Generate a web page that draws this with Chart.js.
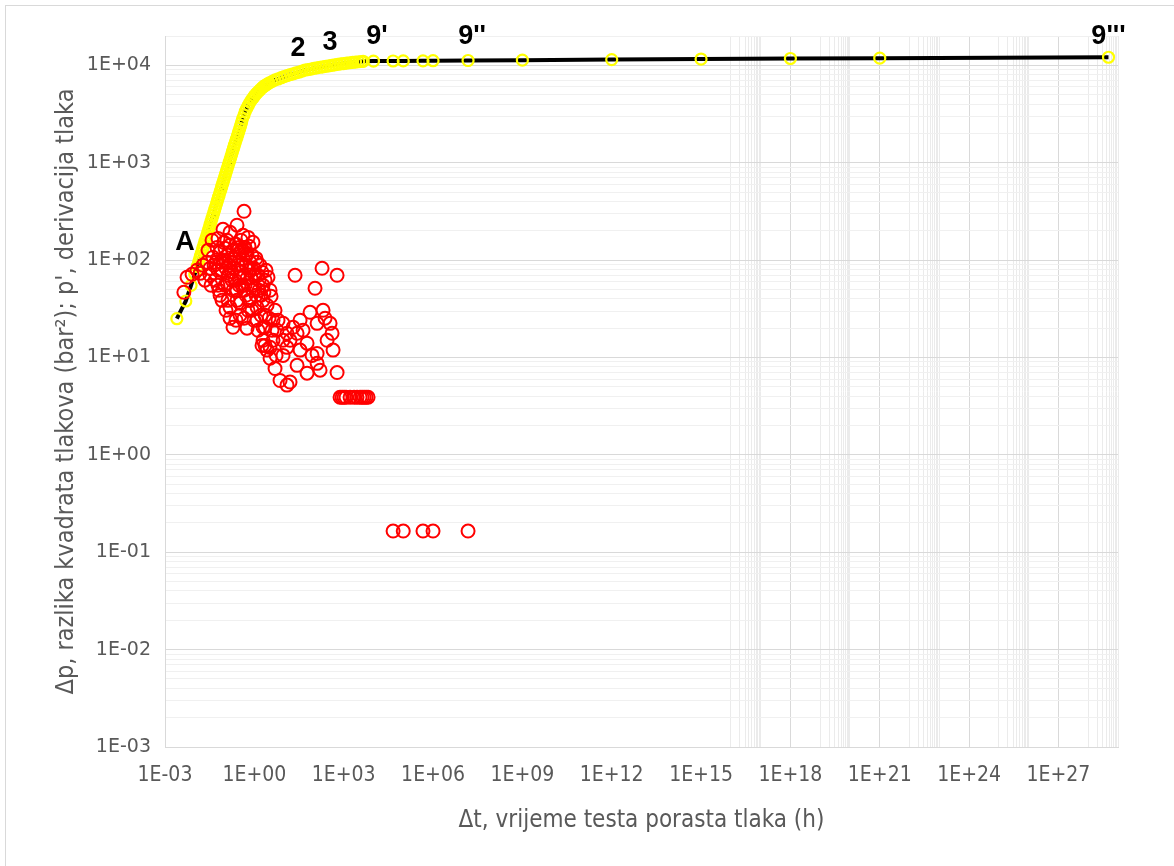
<!DOCTYPE html>
<html>
<head>
<meta charset="utf-8">
<script src="https://cdn.jsdelivr.net/npm/chart.js@4/dist/chart.umd.min.js"></script>
<style>
  html, body { margin: 0; padding: 0; background: #fff; }
  canvas { display: block; }
</style>
</head>
<body>
<canvas id="chart" width="1174" height="866"></canvas>
<script>
// Δp (žuti kružići + crna linija) i p' derivacija (crveni kružići)
var dpTime = [0.0025,0.005,0.0075,0.01,0.012,0.0135,0.0145,0.0155,0.0165,0.018,
  0.019,0.0205,0.022,0.0235,0.025,0.027,0.029,0.031,0.033,0.0355,
  0.038,0.041,0.044,0.047,0.05,0.054,0.058,0.062,0.066,0.071,
  0.076,0.081,0.087,0.093,0.1,0.107,0.115,0.123,0.132,0.141,
  0.151,0.162,0.174,0.186,0.2,0.214,0.229,0.245,0.263,0.282,
  0.302,0.324,0.347,0.372,0.4,0.45,0.5,0.56,0.63,0.71,
  0.8,0.9,1,1.12,1.26,1.41,1.58,1.78,2,2.24,
  2.5,2.8,3.2,4,5,6.3,8,10,12.6,16,
  20,25,32,40,50,63,80,100,126,160,
  200,250,320,400,500,630,800,1000,1260,1600,
  2000,2500,3200,4000,4500,10000,45600,100000,460000,1e6,
  1.5e7,1e9,1e12,1e15,1e18,1e21,4.8e28];
var dpValue = [25,38,55,72,86,96,103,110,117,127,
  135,145,156,166,177,191,205,219,234,251,
  269,290,311,333,354,382,411,439,467,503,
  538,573,616,658,708,757,814,870,934,998,
  1069,1147,1230,1315,1410,1510,1610,1720,1840,1970,
  2100,2250,2410,2590,2820,3090,3390,3630,3890,4170,
  4420,4620,4840,5070,5250,5430,5620,5820,6030,6170,
  6310,6460,6610,6840,7080,7240,7460,7670,7850,8040,
  8180,8360,8510,8710,8910,9020,9160,9290,9420,9550,
  9660,9770,9890,10000,10120,10230,10330,10420,10520,10620,
  10720,10780,10880,10950,11000,11050,11080,11100,11120,11150,
  11200,11300,11450,11600,11750,11850,12100];

var derTime = [0.0043,0.0055,0.0081,0.0119,0.015,0.0189,0.0258,0.0325,0.0409,0.0516,
  0.0603,0.0705,0.0887,0.1035,0.112,0.1306,0.1524,0.165,0.192,0.224,
  0.243,0.283,0.33,0.357,0.417,0.451,0.526,0.568,0.663,0.716,
  0.836,0.977,1.14,1.33,1.55,1.81,2.29,2.88,3.37,0.451,
  0.0887,0.1524,0.262,0.417,0.614,0.487,0.0379,0.0603,0.0479,0.0705,
  0.1035,0.1306,0.1524,0.192,0.224,0.262,0.33,0.386,0.451,0.526,
  0.614,0.716,0.836,0.977,1.14,1.23,1.44,1.68,1.96,2.29,
  2.67,3.11,3.64,4.25,4.95,5.78,0.1524,0.192,0.33,0.568,
  1.23,1.96,4.25,1.81,9.2,12.5,1.96,3.37,2.67,3.37,
  4.95,7.3,12.5,15.8,12.5,20,27.2,43.2,58.9,74.3,
  128,203,349,407,128,440,27.2,58.9,128,161,
  600,23.3,109,188,600,34.3,15.8,9.2,34.3,86.7,
  277,237,0.08,0.13,0.21,0.31,0.487,0.77,1.05,0.262,
  0.112,0.178,0.357,0.663,0.06,2.1,0.9,0.31,0.12,0.0325,
  0.022,0.0278,0.0351,0.0443,0.0558,0.0652,0.076,0.096,0.121,0.141,
  0.178,0.208,0.243,0.283,0.306,0.357,0.386,0.451,0.526,0.568,
  0.663,0.774,0.904,1.05,1.23,1.44,1.68,1.96,2.47,0.0822,
  0.112,0.243,0.451,0.836,1.33,2.29,3.93,6.25,9.2,5.36,
  2.29,
  755,883,1030,1200,1640,2230,2810,3550,4140,4840,5650,6590,
  45600,100000,460000,1e6,1.5e7];
var derValue = [46.7,66.6,71.5,78.6,73.1,88.5,94.9,82.4,107,94.9,
  78.6,120,100,132,82.4,112,142,94.9,126,104,
  145,88.5,120,160,104,135,88.5,115,139,94.9,
  112,82.4,104,69.8,88.5,75,62.1,66.6,49,317,
  207,193,228,180,171,135,160,167,62.1,43.5,
  55.1,38.6,32.7,49,62.1,38.6,36,55.1,69.8,43.5,
  30.5,38.6,55.1,24.1,43.5,32.7,49,27.1,38.6,20.4,
  34.4,25.3,42.5,24.1,30.5,19,25.3,20.4,27.1,20,
  24.1,20.4,15,13.3,22.4,17.7,15,12.7,11.9,9.8,
  7.7,5.8,5.2,5.6,12.7,20.4,17.7,19,14,29.1,
  22.4,30.5,22.4,17.7,11,11.9,8.3,6.9,8.7,7.4,
  7.0,69.8,51.3,82.4,69.8,24.1,15,10.5,11.9,10.5,
  15,25.3,78.6,69.8,82.4,66.6,55.1,66.6,51.3,49,
  94.9,75,88.5,78.6,55.1,46.7,152,135,160,69.8,
  62.1,126,55.1,88.5,135,49,94.9,152,58,88.5,
  62.1,104,49,126,55.1,75,126,49,112,65,
  38.6,82.4,49,69.8,94.9,62.1,43.5,55.1,78.6,38.6,
  30.5,24.1,25.3,30.5,19,27.1,19,24.1,15,10.5,
  13.3,
  3.9,3.9,3.9,3.9,3.9,3.9,3.9,3.9,3.9,3.9,3.9,3.9,
  0.165,0.165,0.165,0.165,0.165];

// eksponenti oznaka na osima
var xLabelExp = [-3,0,3,6,9,12,15,18,21,24,27];
var xGridExp = [18,21,24,27];
var xBandExp = [16,19,22,25,28];
var yLabelExp = [-3,-2,-1,0,1,2,3,4];
var yMax = 2e4;

// oznake točaka na krivulji
var noteText = ['A','2','3',"9'","9''","9'''"];
var noteTime = [0.0047,29.4,349,13200,2.05e7,4.8e28];
var noteValue = [152,15000,17200,19900,19900,19900];

var grey = '#595959';
var narrow = "'Liberation Sans Narrow', 'DejaVu Sans Condensed', sans-serif";

function fmtExp(v) {
  var e = Math.round(Math.log10(v));
  var s = String(Math.abs(e));
  if (s.length < 2) s = '0' + s;
  return '1E' + (e < 0 ? '-' : '+') + s;
}

function pts(xs, ys) {
  return xs.map(function(x, i) { return {x: x, y: ys[i]}; });
}

var xTicks = [];
xLabelExp.forEach(function(e) { xTicks.push({value: Math.pow(10, e), lab: true, grid: xGridExp.indexOf(e) >= 0}); });
xBandExp.forEach(function(e) {
  for (var k = 1; k <= 10; k++) xTicks.push({value: k * Math.pow(10, e), lab: false, grid: false, band: true});
});
xTicks.sort(function(a, b) { return a.value - b.value; });

var yTicks = [];
yLabelExp.forEach(function(e) {
  yTicks.push({value: Math.pow(10, e), lab: true});
  for (var k = 2; k <= 9; k++) {
    var v = k * Math.pow(10, e);
    if (v <= yMax) yTicks.push({value: v, lab: false});
  }
});
yTicks.push({value: yMax, lab: false});

var frame = {
  id: 'frame',
  beforeDraw: function(chart) {
    var c = chart.ctx;
    c.save();
    c.fillStyle = '#fff';
    c.fillRect(0, 0, chart.width, chart.height);
    c.strokeStyle = '#d9d9d9';
    c.lineWidth = 1;
    c.strokeRect(5.5, 5.5, 1200, 900);
    c.restore();
  }
};

var notes = {
  id: 'notes',
  afterDraw: function(chart) {
    var c = chart.ctx, xs = chart.scales.x, ys = chart.scales.y;
    c.save();
    c.fillStyle = '#000';
    c.font = 'bold 27px "Liberation Sans", Arial, sans-serif';
    c.textAlign = 'center';
    c.textBaseline = 'middle';
    noteText.forEach(function(t, i) {
      c.fillText(t, xs.getPixelForValue(noteTime[i]), ys.getPixelForValue(noteValue[i]));
    });
    c.restore();
  }
};

new Chart(document.getElementById('chart'), {
  type: 'scatter',
  data: {
    datasets: [{
      label: "p'",
      data: pts(derTime, derValue),
      showLine: false,
      pointStyle: 'circle',
      pointRadius: 6.5,
      pointBorderWidth: 2,
      pointBorderColor: '#ff0000',
      pointBackgroundColor: 'rgba(0,0,0,0)',
      pointHoverRadius: 6.5
    }, {
      label: 'Δp',
      data: pts(dpTime, dpValue),
      showLine: true,
      borderColor: '#000',
      borderWidth: 4,
      pointStyle: 'circle',
      pointRadius: 5.5,
      pointBorderWidth: 2.2,
      pointBorderColor: '#ffff00',
      pointBackgroundColor: 'rgba(0,0,0,0)',
      pointHoverRadius: 5.5
    }]
  },
  options: {
    responsive: false,
    animation: false,
    layout: { padding: { top: 36, right: 56, left: 0, bottom: 0 } },
    plugins: { legend: { display: false }, tooltip: { enabled: false } },
    scales: {
      x: {
        type: 'logarithmic',
        min: 1e-3,
        max: 1e29,
        afterBuildTicks: function(scale) { scale.ticks = xTicks.slice(); },
        afterFit: function(scale) { scale.height = 119; },
        ticks: {
          autoSkip: false,
          maxRotation: 0,
          padding: 16,
          color: grey,
          font: { family: narrow, size: 21 },
          callback: function(value, index, ticks) { return ticks[index].lab ? fmtExp(value) : ''; }
        },
        grid: {
          drawTicks: false,
          color: function(ctx) {
            var t = ctx.tick;
            if (!t) return 'rgba(0,0,0,0)';
            if (t.band) return '#ebebeb';
            return t.grid ? '#d9d9d9' : 'rgba(0,0,0,0)';
          }
        },
        border: { color: '#d9d9d9' },
        title: {
          display: true,
          text: 'Δt, vrijeme testa porasta tlaka (h)',
          color: grey,
          font: { family: narrow, size: 24 },
          padding: { top: 0, bottom: 31 }
        }
      },
      y: {
        type: 'logarithmic',
        min: 1e-3,
        max: yMax,
        afterBuildTicks: function(scale) { scale.ticks = yTicks.slice(); },
        afterFit: function(scale) { scale.width = 165; },
        ticks: {
          autoSkip: false,
          padding: 14,
          color: grey,
          font: { family: "'DejaVu Sans', sans-serif", size: 19 },
          callback: function(value, index, ticks) { return ticks[index].lab ? fmtExp(value) : ''; }
        },
        grid: {
          drawTicks: false,
          color: function(ctx) {
            var t = ctx.tick;
            if (!t) return 'rgba(0,0,0,0)';
            return t.lab ? '#d9d9d9' : '#f0f0f0';
          }
        },
        border: { color: '#d9d9d9' },
        title: {
          display: true,
          text: "Δp, razlika kvadrata tlakova (bar²); p', derivacija tlaka",
          color: grey,
          font: { family: narrow, size: 25 },
          padding: { top: 51, bottom: 0 }
        }
      }
    }
  },
  plugins: [frame, notes]
});
</script>
</body>
</html>
